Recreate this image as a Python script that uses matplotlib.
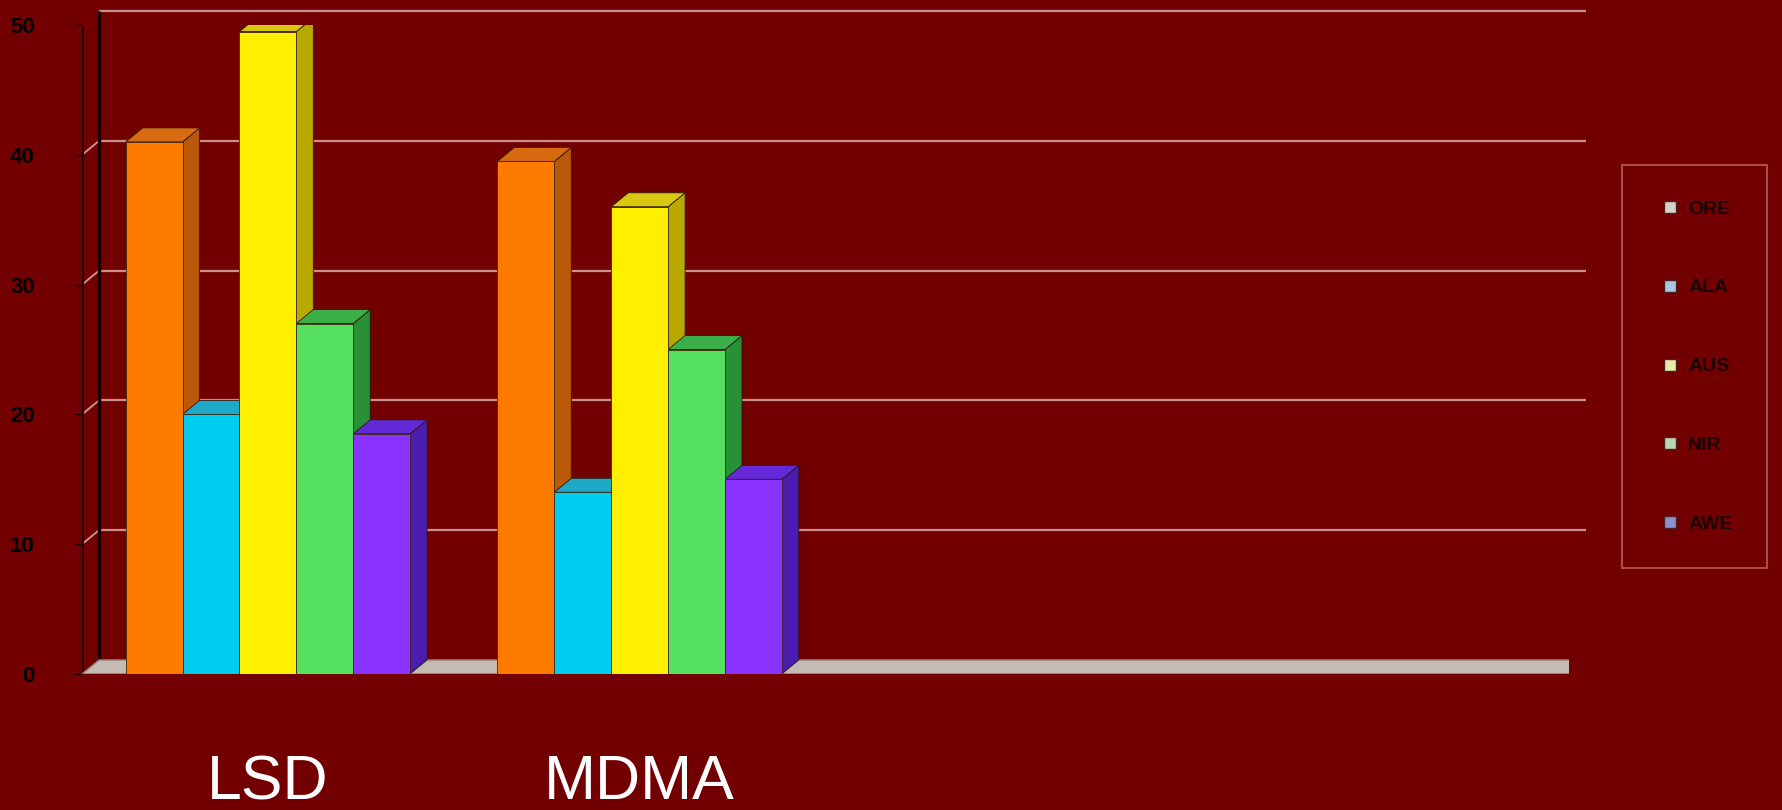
import numpy as np
import matplotlib.pyplot as plt
from matplotlib.patches import Polygon
from matplotlib.lines import Line2D
from matplotlib.transforms import offset_copy

plt.rcParams['font.family'] = ['Liberation Sans', 'DejaVu Sans']

# dati
categories = ['LSD', 'MDMA']
n_slots = 4  # il piano ha posto per 4 gruppi, solo 2 usati
series = ['ORE', 'ALA', 'AUS', 'NIR', 'AWE']
lsd = [41, 20, 49.5, 27, 18.5]
mdma = [39.5, 14, 36, 25, 15]
yticks = [0, 10, 20, 30, 40, 50]

front = ['#ff7b00', '#00ccf0', '#fff000', '#55e060', '#8a33ff']
side = ['#b85808', '#1088a8', '#b8a800', '#2a9038', '#4a1cb0']
top = ['#d86a10', '#20a8c8', '#d8c810', '#3cb048', '#6428d8']
leg_col = ['#d8d0c8', '#a8c8e0', '#e8e8a8', '#b8d8b0', '#9090d0']

bg = '#730000'
dx, dy = 17, 14  # profondita' 3d in pixel

fig = plt.figure(figsize=(17.83, 8.10), dpi=100, facecolor=bg)
ax = fig.add_axes([0.046, 0.168, 0.834, 0.801])
ax.set_facecolor('none')
ax.set_xlim(-0.5, n_slots - 0.5)
ax.set_ylim(0, 50)
for s in ax.spines.values():
    s.set_visible(False)

back = offset_copy(ax.transData, fig=fig, x=dx, y=dy, units='dots')

# parete di fondo: griglia
ax.hlines(yticks[1:], -0.5, n_slots - 0.5, transform=back,
          color='#c89090', lw=1.6, zorder=1, clip_on=False)
# parete sinistra
for t in yticks[1:]:
    x0, y0 = ax.transData.transform((-0.5, t))
    ax.add_patch(Polygon([(x0, y0), (x0 + dx, y0 + dy)], closed=False,
                         transform=None, color='#c89090', lw=1.4, zorder=1))
ax.vlines(-0.5, 0, 50, transform=back, color='#1a0000', lw=2.5, zorder=1, clip_on=False)
ax.vlines(-0.5, 0, 50, color='#1a0000', lw=2, zorder=1)

# pavimento
p = ax.transData.transform([(-0.5, 0), (n_slots - 0.5, 0)])
floor = [tuple(p[0]), tuple(p[1]), (p[1][0] + dx, p[1][1] + dy), (p[0][0] + dx, p[0][1] + dy)]
ax.add_patch(Polygon(floor, closed=True, transform=None, facecolor='#c4bcb4',
                     edgecolor='#8a7a78', lw=1, zorder=2))

# barre con facce laterali e superiori
w = 0.153
xs = np.arange(len(categories))
data = np.array([lsd, mdma])
for i, name in enumerate(series):
    pos = xs - 2 * w + i * w
    bars = ax.bar(pos, data[:, i], w, color=front[i], edgecolor='#3a2a10',
                  lw=0.6, zorder=4, align='center')
    for r in bars:
        (x0, y0), (x1, y1) = ax.transData.transform(
            [(r.get_x(), 0), (r.get_x() + r.get_width(), r.get_height())])
        ax.add_patch(Polygon([(x1, y0), (x1 + dx, y0 + dy), (x1 + dx, y1 + dy), (x1, y1)],
                             transform=None, facecolor=side[i], edgecolor='#2a1a10',
                             lw=0.6, zorder=3))
        ax.add_patch(Polygon([(x0, y1), (x1, y1), (x1 + dx, y1 + dy), (x0 + dx, y1 + dy)],
                             transform=None, facecolor=top[i], edgecolor='#2a1a10',
                             lw=0.6, zorder=3))

# assi
ax.set_yticks(yticks)
ax.set_yticklabels([str(t) for t in yticks], fontsize=16, fontweight='bold', color='black')
ax.tick_params(axis='y', length=6, width=1, color='#1a0000', pad=28)
ax.set_xticks(xs)
ax.set_xticklabels(categories, fontsize=45, color='white')
ax.tick_params(axis='x', length=0, pad=57)

# legenda
handles = [Line2D([], [], ls='none', marker='s', ms=9, mfc=c, mec='#502020') for c in leg_col]
leg = fig.legend(handles, series, loc='upper left', bbox_to_anchor=(1622 / 1783, 1 - 165 / 810),
                 frameon=True, fontsize=14, labelspacing=3.15, borderpad=1.8,
                 handletextpad=0.3, handlelength=1.3, borderaxespad=0)
leg.get_frame().set_facecolor(bg)
leg.get_frame().set_edgecolor('#b86060')
leg.get_frame().set_linewidth(1.5)
leg.get_frame().set_boxstyle('square', pad=0)
for t in leg.get_texts():
    t.set_color('#1a0000')
    t.set_fontweight('bold')

fig.savefig('out.png', dpi=100, facecolor=bg)
